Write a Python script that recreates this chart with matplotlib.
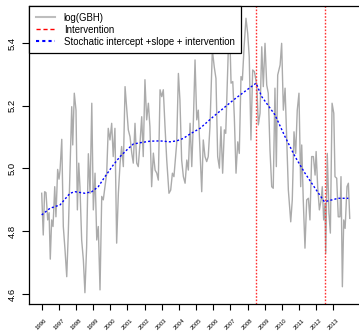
import matplotlib
matplotlib.use("Agg")
import matplotlib.pyplot as plt
from matplotlib.lines import Line2D

plt.rcParams["font.family"] = ["Liberation Sans", "DejaVu Sans"]

# --- log(GBH) series (year, value) ---
gbh_t = [
    1996.00, 1996.09, 1996.17, 1996.25, 1996.35, 1996.43, 1996.50, 1996.58, 1996.66, 1996.76,
    1996.83, 1996.93, 1997.01, 1997.07, 1997.17, 1997.26, 1997.36, 1997.46, 1997.55, 1997.75,
    1997.81, 1997.90, 1998.00, 1998.08, 1998.16, 1998.23, 1998.33, 1998.43, 1998.52, 1998.62,
    1998.72, 1998.82, 1998.92, 1999.01, 1999.11, 1999.21, 1999.30, 1999.40, 1999.50, 1999.59,
    1999.69, 1999.79, 1999.88, 1999.98, 2000.08, 2000.17, 2000.27, 2000.37, 2000.47, 2000.57,
    2000.66, 2000.76, 2000.86, 2000.96, 2001.05, 2001.15, 2001.25, 2001.34, 2001.44, 2001.54,
    2001.63, 2001.73, 2001.83, 2001.92, 2002.02, 2002.12, 2002.22, 2002.31, 2002.41, 2002.51,
    2002.61, 2002.71, 2002.80, 2002.90, 2003.00, 2003.09, 2003.19, 2003.29, 2003.42, 2003.52,
    2003.62, 2003.71, 2003.87, 2003.97, 2004.06, 2004.16, 2004.26, 2004.36, 2004.46, 2004.55,
    2004.65, 2004.75, 2004.84, 2004.94, 2005.04, 2005.13, 2005.23, 2005.33, 2005.42, 2005.52,
    2005.62, 2005.71, 2005.81, 2005.95, 2006.06, 2006.16, 2006.26, 2006.36, 2006.45, 2006.55,
    2006.65, 2006.73, 2006.85, 2006.94, 2007.04, 2007.14, 2007.23, 2007.33, 2007.43, 2007.52,
    2007.62, 2007.70, 2007.80, 2007.91, 2008.01, 2008.10, 2008.20, 2008.30, 2008.40, 2008.54,
    2008.63, 2008.73, 2008.83, 2008.92, 2009.02, 2009.12, 2009.21, 2009.31, 2009.41, 2009.50,
    2009.60, 2009.68, 2009.76, 2009.90, 2009.99, 2010.09, 2010.19, 2010.29, 2010.38, 2010.52,
    2010.61, 2010.71, 2010.81, 2010.90, 2011.00, 2011.10, 2011.16, 2011.25, 2011.35, 2011.45,
    2011.55, 2011.64, 2011.74, 2011.84, 2011.94, 2012.00, 2012.09, 2012.19, 2012.29, 2012.36,
    2012.44, 2012.52, 2012.56, 2012.65, 2012.75, 2012.83, 2012.93, 2013.03, 2013.10, 2013.20,
    2013.29, 2013.39, 2013.45, 2013.53, 2013.61, 2013.69, 2013.80, 2013.88, 2013.96,
]
gbh_v = [
    4.921, 4.788, 4.926, 4.923, 4.836, 4.859, 4.711, 4.836, 4.815, 4.942,
    4.846, 4.997, 4.966, 4.995, 5.093, 4.815, 4.740, 4.655, 4.794, 5.197,
    5.075, 5.240, 5.186, 4.868, 5.017, 4.942, 4.772, 4.708, 4.604, 4.751,
    5.047, 4.921, 5.208, 4.868, 4.985, 4.772, 4.815, 4.613, 4.911, 4.900,
    4.942, 4.985, 5.128, 5.091, 5.144, 5.038, 5.128, 4.762, 4.921, 5.017,
    5.070, 5.006, 5.261, 5.186, 5.123, 5.101, 5.049, 5.017, 5.144, 5.017,
    5.006, 5.080, 5.165, 5.038, 5.283, 5.155, 5.208, 5.133, 4.942, 5.049,
    4.995, 4.985, 4.963, 5.251, 5.229, 5.251, 5.133, 5.027, 4.921, 4.931,
    4.985, 4.974, 5.080, 5.303, 5.218, 5.027, 4.974, 4.953, 5.027, 4.995,
    5.144, 5.006, 5.144, 5.346, 5.155, 5.186, 5.059, 4.926, 5.091, 5.038,
    5.022, 5.038, 5.133, 5.378, 5.324, 5.287, 5.038, 5.001, 5.133, 4.985,
    5.123, 5.112, 5.324, 5.484, 5.272, 5.277, 5.165, 4.985, 5.085, 5.048,
    5.293, 5.282, 5.388, 5.479, 5.431, 5.356, 5.091, 5.314, 5.309, 5.266,
    5.139, 5.176, 5.388, 5.261, 5.399, 5.266, 5.240, 5.059, 4.942, 4.937,
    5.256, 5.006, 5.298, 5.330, 5.399, 5.186, 5.256, 5.091, 4.932, 4.830,
    4.900, 5.117, 5.048, 5.186, 5.240, 4.942, 5.075, 4.900, 4.746, 4.900,
    4.905, 4.836, 5.038, 5.038, 4.979, 5.054, 4.942, 4.868, 4.900, 4.942,
    4.836, 4.889, 4.730, 5.048, 4.857, 4.794, 5.208, 5.176, 4.974, 4.969,
    4.846, 4.846, 4.974, 4.623, 4.836, 4.809, 4.942, 4.953, 4.841,
]

# --- fitted level: stochastic intercept + slope + intervention ---
fit_t = [
    1996.00, 1996.48, 1997.07, 1997.65, 1997.94, 1998.52, 1998.92, 1999.30, 1999.69, 2000.17,
    2000.57, 2000.96, 2001.34, 2001.73, 2002.31, 2002.90, 2003.48, 2003.87, 2004.26, 2004.65,
    2005.23, 2006.00, 2007.17, 2007.95, 2008.50, 2008.83, 2009.60, 2010.19, 2010.77, 2011.35,
    2011.94, 2012.48, 2012.71, 2013.29, 2013.88,
]
fit_v = [
    4.852, 4.873, 4.884, 4.921, 4.926, 4.921, 4.926, 4.942, 4.974, 5.011,
    5.038, 5.059, 5.078, 5.082, 5.087, 5.088, 5.085, 5.088, 5.096, 5.110,
    5.128, 5.165, 5.218, 5.250, 5.272, 5.229, 5.171, 5.101, 5.038, 4.985,
    4.937, 4.894, 4.897, 4.905, 4.905,
]

interventions = [2008.5, 2012.5]
years = list(range(1996, 2014))
yticks = [4.6, 4.8, 5.0, 5.2, 5.4]

fig = plt.figure(figsize=(3.59, 3.33), dpi=100)
ax = fig.add_axes([29.3 / 359, 29 / 333, 1 - 29.3 / 359, 298 / 333])

ax.plot(gbh_t, gbh_v, color="#ababab", lw=1.0)
ax.plot(fit_t, fit_v, color="blue", lw=1.0, linestyle=(0, (1.5, 1.5)))
for xv in interventions:
    ax.axvline(xv, color="#ff3030", lw=1.0, linestyle=(0, (1.2, 1.2)))

ax.set_xlim(1995.277, 2014.5)
ax.set_ylim(4.568, 5.518)

ax.set_xticks(years)
ax.set_xticklabels([str(y) for y in years], rotation=45, ha="center", va="center", fontsize=4.3)
ax.set_yticks(yticks)
ax.set_yticklabels([f"{v:.1f}" for v in yticks], rotation=90, va="center", fontsize=6.8)
ax.tick_params(axis="x", length=4.3, width=0.8, pad=10.5)
ax.tick_params(axis="y", length=5, width=0.8, pad=4)

ax.spines["right"].set_visible(False)
for s in ["left", "bottom", "top"]:
    ax.spines[s].set_linewidth(0.9)

handles = [
    Line2D([], [], color="#bebebe", lw=1.5),
    Line2D([], [], color="red", lw=1.0, linestyle=(0, (3, 2))),
    Line2D([], [], color="blue", lw=1.5, linestyle=(0, (1.5, 1.5))),
]
labels = ["log(GBH)", "Intervention", "Stochatic intercept +slope + intervention"]
leg = ax.legend(handles, labels, loc="upper left", bbox_to_anchor=(0, 1), borderaxespad=0,
                fontsize=6.9, frameon=True, fancybox=False, framealpha=1, edgecolor="black",
                borderpad=0.7, labelspacing=0.2, handlelength=2.0, handletextpad=0.9)
leg.get_frame().set_linewidth(0.9)

fig.savefig("out.png", dpi=100)
